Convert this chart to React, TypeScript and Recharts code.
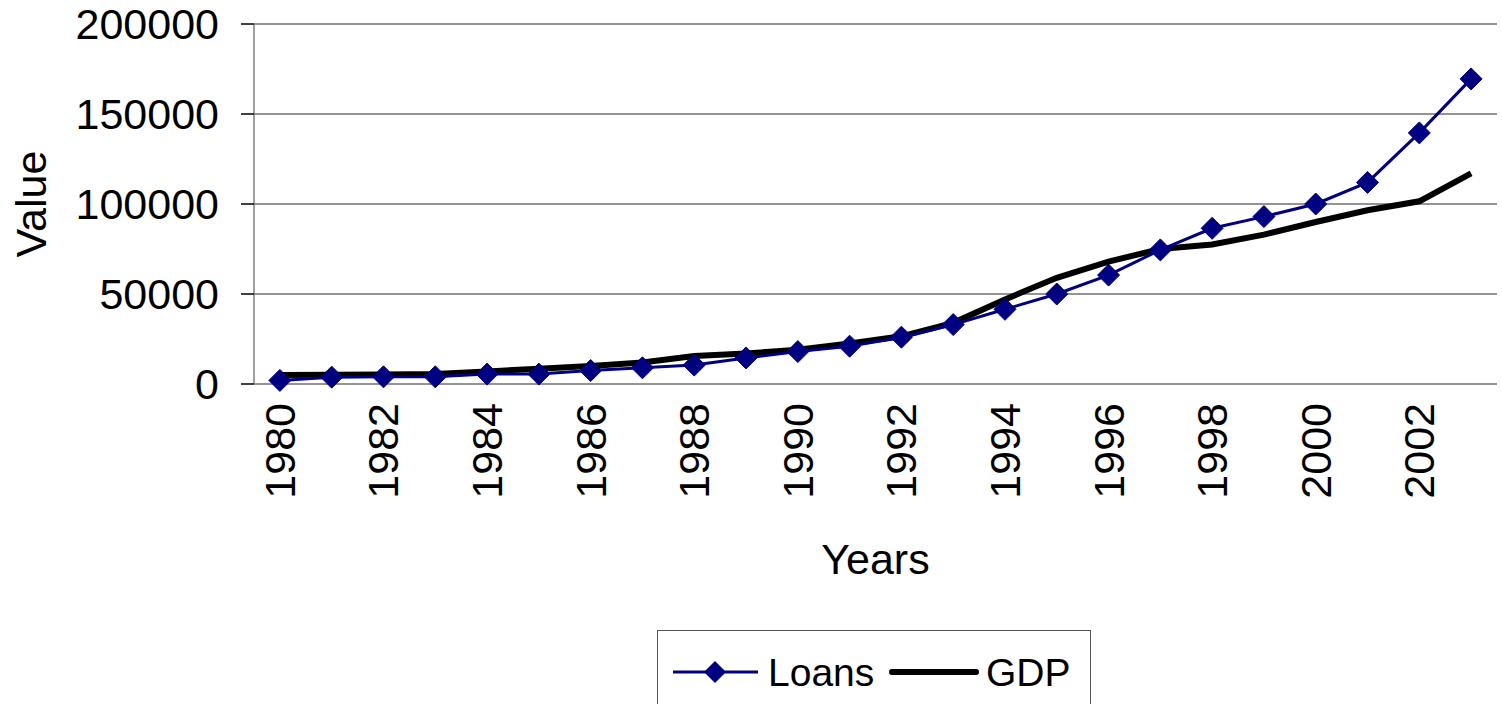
import { CartesianGrid, Line, LineChart, XAxis, YAxis } from "recharts";

const years = [
  1980, 1981, 1982, 1983, 1984, 1985, 1986, 1987, 1988, 1989, 1990, 1991,
  1992, 1993, 1994, 1995, 1996, 1997, 1998, 1999, 2000, 2001, 2002, 2003,
];
const loans = [
  2000, 3800, 4000, 4000, 5500, 5500, 7500, 9000, 10500, 14500, 18000, 21000,
  26000, 33000, 41500, 50000, 60500, 74500, 86500, 93000, 100000, 112000,
  139500, 169500,
];
const gdp = [
  5000, 5200, 5300, 5500, 7000, 8500, 10000, 12000, 15500, 17000, 19000,
  22500, 26500, 34000, 47000, 59000, 68000, 75000, 77500, 83000, 90000, 96500,
  101500, 117000,
];
const yearLabels = [
  1980, 1982, 1984, 1986, 1988, 1990, 1992, 1994, 1996, 1998, 2000, 2002,
];
const valueTicks = [0, 50000, 100000, 150000, 200000];

// category boundaries, where the small tick marks sit
const boundaries = [...years.map((y) => y - 0.5), years[years.length - 1] + 0.5];

const data = years.map((year, i) => ({ year, Loans: loans[i], GDP: gdp[i] }));

const FONT = "'Liberation Sans', Arial, sans-serif";
const NAVY = "#000080";

const Diamond = ({ cx, cy }: any) => {
  if (cx == null || cy == null) return null;
  const r = 11;
  return (
    <polygon
      points={`${cx},${cy - r} ${cx + r},${cy} ${cx},${cy + r} ${cx - r},${cy}`}
      fill={NAVY}
      stroke={NAVY}
    />
  );
};

const YearTick = ({ x, y, payload }: any) => {
  const cx = x + 15;
  return (
    <text
      x={cx}
      y={y}
      transform={`rotate(-90 ${cx} ${y})`}
      textAnchor="end"
      fontSize={43}
      fontFamily={FONT}
      fill="#000"
    >
      {payload.value}
    </text>
  );
};

const ValueLabel = ({ viewBox }: any) => {
  const x = 46;
  const y = viewBox.y + viewBox.height / 2;
  return (
    <text
      x={x}
      y={y}
      transform={`rotate(-90 ${x} ${y})`}
      textAnchor="middle"
      fontSize={43}
      fontFamily={FONT}
      fill="#000"
    >
      Value
    </text>
  );
};

export default function App() {
  return (
    <div
      style={{
        position: "absolute",
        left: 0,
        top: 0,
        width: 1502,
        height: 704,
        overflow: "hidden",
        background: "#fff",
        fontFamily: FONT,
      }}
    >
      <LineChart
        width={1502}
        height={704}
        data={data}
        margin={{ top: 24, right: 5, bottom: 0, left: 0 }}
      >
        <CartesianGrid vertical={false} stroke="#707070" strokeWidth={1.5} />
        <XAxis
          xAxisId="marks"
          dataKey="year"
          type="number"
          domain={[1979.5, 2003.5]}
          ticks={boundaries}
          tick={false}
          tickSize={12}
          height={0}
          stroke="#808080"
          strokeWidth={1.5}
          tickLine={{ stroke: "#000", strokeWidth: 1.5 }}
        />
        <XAxis
          dataKey="year"
          type="number"
          domain={[1979.5, 2003.5]}
          ticks={yearLabels}
          interval={0}
          axisLine={false}
          tickLine={false}
          tickSize={12}
          tickMargin={7}
          height={320}
          tick={<YearTick />}
          label={{
            value: "Years",
            position: "insideTop",
            offset: 159,
            fontSize: 43,
            fontFamily: FONT,
            fill: "#000",
          }}
        />
        <YAxis
          domain={[0, 200000]}
          ticks={valueTicks}
          interval={0}
          width={254}
          tickSize={13}
          tickMargin={22}
          stroke="#808080"
          strokeWidth={1.5}
          tickLine={{ stroke: "#000", strokeWidth: 1.5 }}
          tick={{ fontSize: 43, fontFamily: FONT, fill: "#000" }}
          label={<ValueLabel />}
        />
        <Line
          dataKey="GDP"
          stroke="#000"
          strokeWidth={6}
          dot={false}
          isAnimationActive={false}
        />
        <Line
          dataKey="Loans"
          stroke={NAVY}
          strokeWidth={3}
          dot={<Diamond />}
          activeDot={false}
          isAnimationActive={false}
        />
      </LineChart>
      <div
        style={{
          position: "absolute",
          left: 657,
          top: 630,
          width: 434,
          height: 90,
          border: "1.5px solid #555",
          boxSizing: "border-box",
        }}
      >
        <svg width={434} height={90} style={{ position: "absolute", left: 0, top: 0 }}>
          <line x1={15} x2={100} y1={41} y2={41} stroke={NAVY} strokeWidth={3} />
          <polygon points="57,30 68,41 57,52 46,41" fill={NAVY} />
          <text x={110} y={55} fontSize={39} fontFamily={FONT} fill="#000">
            Loans
          </text>
          <line x1={234} x2={318} y1={41} y2={41} stroke="#000" strokeWidth={6} strokeLinecap="round" />
          <text x={328} y={55} fontSize={39} fontFamily={FONT} fill="#000">
            GDP
          </text>
        </svg>
      </div>
    </div>
  );
}
